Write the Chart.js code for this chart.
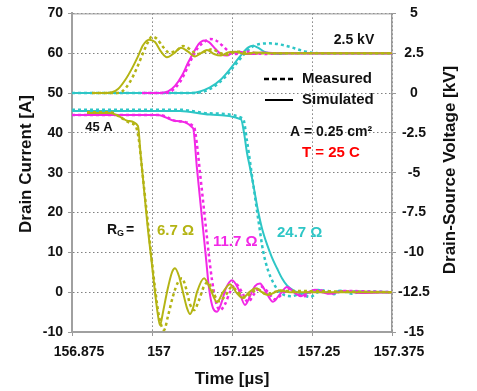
<!DOCTYPE html>
<html>
<head>
<meta charset="utf-8">
<script src="https://cdn.jsdelivr.net/npm/chart.js@4.4.1/dist/chart.umd.min.js"></script>
<style>
    html, body { margin: 0; padding: 0; background: #fff; }
</style>
</head>
<body>
<canvas id="chart" width="477" height="391"></canvas>
<script>
// Time axis ticks [us]
const timeTicks = [156.875, 157, 157.125, 157.25, 157.375];

// Drain-source voltage [kV] - RG = 6.7 ohm
const vOlvSimT = [156.9063, 156.9266, 156.9375, 156.9469, 156.9578, 156.9688, 156.9781, 156.9859, 156.9953, 157.0047, 157.0141, 157.0234, 157.0344, 157.0453, 157.0563, 157.0672, 157.0766, 157.0859, 157.0969, 157.1078, 157.1188, 157.1297, 157.1453, 157.1609, 157.1844, 157.375];
const vOlvSim  = [0, 0, 0.05, 0.25, 0.8, 1.55, 2.3, 3.0, 3.35, 3.2, 2.6, 2.25, 2.5, 2.85, 2.6, 2.3, 2.5, 2.7, 2.45, 2.35, 2.55, 2.6, 2.45, 2.55, 2.5, 2.5];
const vOlvMeasT = [156.9063, 156.9422, 156.9531, 156.9656, 156.9766, 156.9859, 156.9938, 157.0, 157.0078, 157.0172, 157.0266, 157.0375, 157.0484, 157.0594, 157.0703, 157.0828, 157.0938, 157.1047, 157.1156, 157.1266, 157.1375, 157.1531, 157.375];
const vOlvMeas  = [0, 0, 0.1, 0.7, 1.6, 2.5, 3.2, 3.55, 3.4, 2.9, 2.55, 2.65, 2.95, 2.75, 2.45, 2.6, 2.75, 2.55, 2.4, 2.55, 2.6, 2.5, 2.5];

// RG = 11.7 ohm
const vMagSimT = [156.9844, 157.0125, 157.025, 157.0359, 157.0469, 157.0563, 157.0656, 157.0734, 157.0813, 157.0891, 157.0984, 157.1078, 157.1172, 157.1266, 157.1375, 157.1484, 157.1594, 157.1719, 157.1922, 157.375];
const vMagSim  = [0, 0, 0.1, 0.45, 1.1, 1.9, 2.6, 3.1, 3.3, 3.2, 2.8, 2.45, 2.35, 2.55, 2.6, 2.45, 2.45, 2.55, 2.5, 2.5];
const vMagMeasT = [156.9844, 157.0203, 157.0313, 157.0438, 157.0531, 157.0625, 157.0719, 157.0813, 157.0906, 157.1, 157.1094, 157.1188, 157.1281, 157.1391, 157.15, 157.1625, 157.1766, 157.2, 157.375];
const vMagMeas  = [0, 0, 0.15, 0.7, 1.4, 2.2, 2.85, 3.2, 3.4, 3.3, 3.0, 2.65, 2.45, 2.5, 2.6, 2.5, 2.45, 2.5, 2.5];

// RG = 24.7 ohm
const vCyaSimT = [156.875, 157.0594, 157.075, 157.0906, 157.1063, 157.1219, 157.1375, 157.15, 157.1578, 157.1656, 157.175, 157.1844, 157.2, 157.2156, 157.375];
const vCyaSim  = [0, 0, 0.1, 0.35, 0.8, 1.5, 2.3, 2.85, 2.97, 2.85, 2.6, 2.5, 2.45, 2.5, 2.5];
const vCyaMeasT = [156.875, 157.0672, 157.0828, 157.0984, 157.1141, 157.1297, 157.1453, 157.1563, 157.1688, 157.1844, 157.2, 157.2156, 157.2313, 157.2469, 157.2625, 157.375];
const vCyaMeas  = [0, 0, 0.12, 0.45, 1.0, 1.75, 2.5, 2.9, 3.08, 3.12, 3.05, 2.9, 2.7, 2.55, 2.5, 2.5];

// Drain current [A] - RG = 6.7 ohm
const iOlvSimT = [156.8984, 156.9344, 156.9469, 156.9625, 156.9781, 156.982, 156.9859, 156.9898, 156.9938, 156.9992, 157.0047, 157.0086, 157.0125, 157.0172, 157.0234, 157.0313, 157.0359, 157.0422, 157.0484, 157.0547, 157.0594, 157.0641, 157.0703, 157.0813, 157.0906, 157.1016, 157.1109, 157.1219, 157.1313, 157.1422, 157.1516, 157.1625, 157.1719, 157.1813, 157.2, 157.2156, 157.375];
const iOlvSim  = [45, 45, 44.3, 43, 41.7, 35, 28.5, 22, 15.5, 8, 0, -5, -8.3, -5, 0, 5, 6, 4, 0, -4, -5.5, -4, 0, 3.5, 1, -2.5, 0, 2, 0, -1.5, 0, 1, 0, -0.7, 0.5, 0, 0];
const iOlvMeasT = [156.8984, 156.9344, 156.95, 156.9656, 156.975, 156.9797, 156.9844, 156.9891, 156.9938, 156.9984, 157.0047, 157.0109, 157.0188, 157.025, 157.0328, 157.0406, 157.0469, 157.0531, 157.0594, 157.0656, 157.0734, 157.0813, 157.0875, 157.0953, 157.1047, 157.1141, 157.125, 157.1344, 157.1453, 157.1563, 157.1656, 157.1781, 157.2, 157.375];
const iOlvMeas  = [45.2, 45.2, 44, 42.5, 41.5, 38, 31, 24, 17, 10, 1, -6, -9.5, -6, -1, 2.5, 3.5, 1, -3, -4.5, -2, 1.5, 2.5, 0, -2.3, -1, 1.3, 0, -1.3, 0, 0.7, -0.5, 0.3, 0];

// RG = 11.7 ohm
const iMagSimT = [156.875, 157.0094, 157.0359, 157.0641, 157.0703, 157.075, 157.0797, 157.0844, 157.0891, 157.0953, 157.1016, 157.1078, 157.1156, 157.125, 157.1344, 157.1453, 157.1531, 157.1609, 157.1688, 157.1781, 157.1891, 157.2, 157.2109, 157.2219, 157.2328, 157.2438, 157.2547, 157.2656, 157.2781, 157.3016, 157.325, 157.375];
const iMagSim  = [44.5, 44.5, 43, 41.2, 31, 23.5, 16, 8.5, 1, -4, -4.9, -3, 1, 3, 1, -3.2, -1, 1.5, 2.2, 0, -2.4, -0.5, 1.3, 0, -1, 0, 0.6, 0, -0.4, 0.3, -0.2, 0];
const iMagMeasT = [156.875, 157.0125, 157.0375, 157.0656, 157.0703, 157.075, 157.0797, 157.0844, 157.0891, 157.0938, 157.1, 157.1063, 157.1141, 157.1219, 157.1313, 157.1406, 157.15, 157.1594, 157.1703, 157.1797, 157.1922, 157.2031, 157.2141, 157.225, 157.2375, 157.25, 157.2625, 157.2781, 157.3016, 157.375];
const iMagMeas  = [44.5, 44.5, 43, 41.5, 37, 30, 23, 16, 9, 3, -2.5, -4.5, -3, 0, 2, 0, -2.5, -0.5, 1.4, 0.3, -1.8, -0.5, 0.8, -0.3, -1, 0.2, 0.5, -0.4, 0.3, 0];

// RG = 24.7 ohm
const iCyaSimT = [156.875, 157.0438, 157.0906, 157.1391, 157.1438, 157.1484, 157.1531, 157.1594, 157.1656, 157.1719, 157.1797, 157.1875, 157.1953, 157.2031, 157.2109, 157.2203, 157.2313, 157.2406, 157.25, 157.2594, 157.2703, 157.2828, 157.2938, 157.3063, 157.3188, 157.3328, 157.375];
const iCyaSim  = [45.5, 45.5, 44.6, 43.4, 40, 35, 31.3, 26, 20.5, 16, 12, 8.7, 6, 3.5, 1.7, 0.5, -0.3, -0.4, 0.3, 0.6, 0, -0.2, 0.4, 0, 0.3, 0, 0];
const iCyaMeasT = [156.875, 157.0438, 157.0906, 157.1422, 157.1484, 157.1547, 157.1609, 157.1672, 157.1734, 157.1813, 157.1891, 157.1969, 157.2078, 157.2188, 157.2313, 157.2469, 157.2594, 157.2719, 157.2844, 157.2969, 157.3125, 157.3281, 157.375];
const iCyaMeas  = [45.8, 45.8, 44.9, 43.6, 38, 31, 24, 17, 10.5, 5.5, 2.5, 0.5, -0.8, -1, -0.5, -1.2, 0, 0.5, -0.5, 0.3, -0.4, 0.2, 0];

const OLIVE = '#b4b414';
const MAGENTA = '#f228e6';
const CYAN = '#2ec6c6';
const FONT = "'Liberation Sans', Arial, sans-serif";

function series(t, v, color, measured, axis) {
    return {
        data: t.map((x, i) => ({ x: x, y: v[i] })),
        borderColor: color,
        borderWidth: measured ? 2.5 : 2,
        borderDash: measured ? [3, 3] : [],
        pointRadius: 0,
        cubicInterpolationMode: 'monotone',
        fill: false,
        yAxisID: axis
    };
}

// Texts, legend and both axis titles drawn on top of the plot
const overlay = {
    id: 'overlay',
    afterDraw(chart) {
        const ctx = chart.ctx;
        const area = chart.chartArea;
        ctx.save();

        // top frame line
        ctx.strokeStyle = '#999';
        ctx.lineWidth = 1;
        ctx.beginPath();
        ctx.moveTo(area.left, area.top + 0.5);
        ctx.lineTo(area.right, area.top + 0.5);
        ctx.stroke();

        ctx.textBaseline = 'middle';
        const text = (s, x, y, size, color, align) => {
            ctx.font = `bold ${size}px ${FONT}`;
            ctx.fillStyle = color;
            ctx.textAlign = align || 'left';
            ctx.fillText(s, x, y);
        };

        // legend
        ctx.strokeStyle = '#000';
        ctx.lineWidth = 2.5;
        ctx.setLineDash([5, 3]);
        ctx.beginPath();
        ctx.moveTo(264, 79);
        ctx.lineTo(293, 79);
        ctx.stroke();
        ctx.setLineDash([]);
        ctx.lineWidth = 2;
        ctx.beginPath();
        ctx.moveTo(265, 100);
        ctx.lineTo(293, 100);
        ctx.stroke();
        text('Measured', 302, 79, 15, '#111');
        text('Simulated', 302, 100, 15, '#111');

        text('45 A', 99, 127, 13, '#111', 'center');
        text('2.5 kV', 354, 40, 14, '#111', 'center');
        text('A = 0.25 cm\u00b2', 290, 132, 14, '#111');
        text('T = 25 C', 302, 153, 15, '#ff0000');

        text('R', 107, 230, 14, '#111');
        text('G', 117, 234, 9, '#111');
        text('=', 126, 230, 14, '#111');
        text('6.7 \u03a9', 157, 231, 15, OLIVE);
        text('11.7 \u03a9', 213, 242, 15, MAGENTA);
        text('24.7 \u03a9', 277, 233, 15, CYAN);

        // axis titles, both reading bottom to top
        ctx.save();
        ctx.translate(26, 164);
        ctx.rotate(-Math.PI / 2);
        text('Drain Current [A]', 0, 0, 17, '#111', 'center');
        ctx.restore();
        ctx.translate(450, 170);
        ctx.rotate(-Math.PI / 2);
        text('Drain-Source Voltage [kV]', 0, 0, 17, '#111', 'center');
        ctx.restore();
    }
};

const tickFont = { family: FONT, size: 14, weight: 'bold' };
const titleFont = { family: FONT, size: 17, weight: 'bold' };

new Chart(document.getElementById('chart'), {
    type: 'line',
    data: {
        datasets: [
            series(iOlvMeasT, iOlvMeas, OLIVE, true, 'y'),
            series(iOlvSimT, iOlvSim, OLIVE, false, 'y'),
            series(iMagMeasT, iMagMeas, MAGENTA, true, 'y'),
            series(iMagSimT, iMagSim, MAGENTA, false, 'y'),
            series(iCyaMeasT, iCyaMeas, CYAN, true, 'y'),
            series(iCyaSimT, iCyaSim, CYAN, false, 'y'),
            series(vOlvMeasT, vOlvMeas, OLIVE, true, 'y2'),
            series(vOlvSimT, vOlvSim, OLIVE, false, 'y2'),
            series(vMagMeasT, vMagMeas, MAGENTA, true, 'y2'),
            series(vMagSimT, vMagSim, MAGENTA, false, 'y2'),
            series(vCyaMeasT, vCyaMeas, CYAN, true, 'y2'),
            series(vCyaSimT, vCyaSim, CYAN, false, 'y2')
        ]
    },
    options: {
        responsive: false,
        animation: false,
        layout: { padding: { top: 12, left: 0, right: 0, bottom: 0 } },
        plugins: { legend: { display: false }, tooltip: { enabled: false } },
        scales: {
            x: {
                type: 'linear',
                min: timeTicks[0],
                max: timeTicks[timeTicks.length - 1],
                afterBuildTicks: (scale) => { scale.ticks = timeTicks.map(v => ({ value: v })); },
                afterFit: (scale) => { scale.height = 59; },
                ticks: { font: tickFont, color: '#111', padding: 8, maxRotation: 0, labelOffset: 7, callback: (v) => String(v) },
                grid: { color: '#808080', lineWidth: 1, tickLength: 4, tickColor: '#999' },
                border: { color: '#a0a0a0', width: 2, dash: [1.5, 2.5] },
                title: { display: true, text: 'Time [\u00b5s]', font: titleFont, color: '#111', padding: { top: 0, bottom: 1 } }
            },
            y: {
                position: 'left',
                min: -10,
                max: 70,
                afterFit: (scale) => { scale.width = 72; },
                ticks: { stepSize: 10, font: tickFont, color: '#111', padding: 5 },
                grid: { color: '#808080', lineWidth: 1, tickLength: 4, tickColor: '#999' },
                border: { color: '#a0a0a0', width: 2, dash: [1.5, 2.5] }
            },
            y2: {
                position: 'right',
                min: -15,
                max: 5,
                afterFit: (scale) => { scale.width = 85; },
                ticks: { stepSize: 2.5, font: tickFont, color: '#111', padding: 2, crossAlign: 'center' },
                grid: { drawOnChartArea: false, tickLength: 4, tickColor: '#999' },
                border: { color: '#999', width: 1.5 }
            }
        }
    },
    plugins: [overlay]
});
</script>
</body>
</html>
